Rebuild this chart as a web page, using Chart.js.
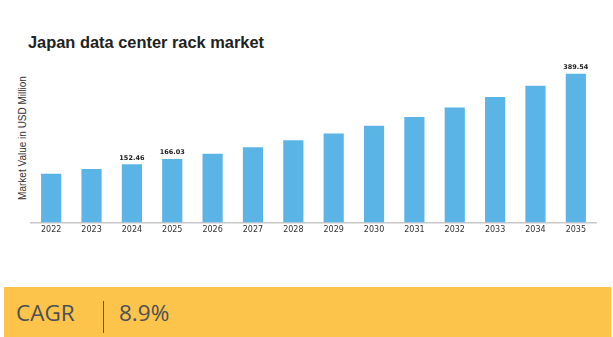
<!DOCTYPE html>
<html>
<head>
<meta charset="utf-8">
<script src="https://cdn.jsdelivr.net/npm/chart.js@4"></script>
<style>
html,body{margin:0;padding:0;background:#fff;width:613px;height:337px;overflow:hidden;position:relative}
#title{position:absolute;left:28px;top:33px;font:bold 16.4px "Liberation Sans",Arial,sans-serif;color:#222;white-space:nowrap}
#ytitle{position:absolute;left:21.5px;top:137.5px;transform:translate(-50%,-50%) rotate(-90deg);font:10px "Liberation Sans",Arial,sans-serif;color:#333;white-space:nowrap}
#wrap{position:absolute;left:0;top:0;width:613px;height:250px}
#cagr{position:absolute;left:4px;top:287px;width:607px;height:50px;background:#FDC44B}
#cagr .l{position:absolute;left:12px;top:10px;font:22.5px "Open Sans",sans-serif;color:#4d5058}
#cagr .d{position:absolute;left:99px;top:14px;width:1.3px;height:32px;background:#2f5d8c}
#cagr .v{position:absolute;left:115px;top:10px;font:22.5px "Open Sans",sans-serif;color:#4d5058}
</style>
</head>
<body>
<div id="title">Japan data center rack market</div>
<div id="ytitle">Market Value in USD Million</div>
<div id="wrap"><canvas id="c" width="613" height="250"></canvas></div>
<div id="cagr"><span class="l">CAGR</span><div class="d"></div><span class="v">8.9%</span></div>
<script>
const years = ["2022","2023","2024","2025","2026","2027","2028","2029","2030","2031","2032","2033","2034","2035"];
const values = [127.6, 139.9, 152.46, 166.03, 180.0, 196.5, 214.8, 233.0, 253.3, 276.0, 301.0, 328.5, 358.0, 389.54];
const labelledYears = ["2024","2025","2035"];

const labelPlugin = {
  id: 'valueLabels',
  afterDatasetsDraw(chart) {
    const ctx = chart.ctx;
    const meta = chart.getDatasetMeta(0);
    ctx.save();
    ctx.font = 'bold 6.5px "DejaVu Sans", sans-serif';
    ctx.fillStyle = '#222';
    ctx.textAlign = 'center';
    ctx.textBaseline = 'bottom';
    meta.data.forEach((bar, i) => {
      if (labelledYears.includes(years[i])) {
        ctx.fillText(values[i].toFixed(2), bar.x, bar.y - 3);
      }
    });
    ctx.restore();
  }
};

new Chart(document.getElementById('c'), {
  type: 'bar',
  data: {
    labels: years,
    datasets: [{
      data: values,
      backgroundColor: '#5BB4E6',
      borderWidth: 0,
      barPercentage: 0.5,
      categoryPercentage: 1.0
    }]
  },
  options: {
    responsive: false,
    animation: false,
    devicePixelRatio: 1,
    layout: { padding: { left: 31, right: 17, top: 62, bottom: 12 } },
    plugins: { legend: { display: false }, tooltip: { enabled: false }, title: { display: false } },
    scales: {
      x: {
        grid: { display: false, drawTicks: false },
        border: { display: true, color: '#c8c8c8', width: 1.5 },
        ticks: { color: '#333', font: { family: '"DejaVu Sans", sans-serif', size: 8 }, padding: 3, maxRotation: 0 }
      },
      y: {
        display: false,
        min: 0,
        max: 420
      }
    }
  },
  plugins: [labelPlugin]
});
</script>
</body>
</html>
